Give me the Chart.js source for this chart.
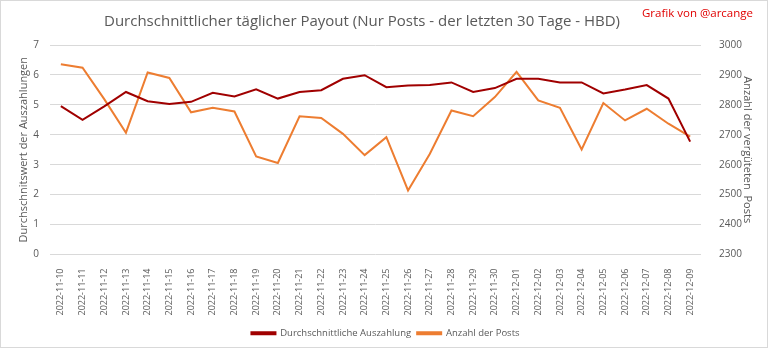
<!DOCTYPE html>
<html>
<head>
<meta charset="utf-8">
<script src="https://cdn.jsdelivr.net/npm/chart.js@4/dist/chart.umd.min.js"></script>
<style>
  body { margin: 0; background: #fff; }
  #wrap { position: relative; width: 768px; height: 349px; }
  #titel { position: absolute; left: 104px; top: 10px; font: 15px "Open Sans", sans-serif; color: #595959; white-space: nowrap; }
  #credit { position: absolute; right: 15px; top: 5px; font: 11.5px "Open Sans", sans-serif; color: #e00000; white-space: nowrap; }
</style>
</head>
<body>
<div id="wrap">
  <canvas id="chart-area" width="768" height="349"></canvas>
  <div id="titel">Durchschnittlicher täglicher Payout (Nur Posts - der letzten 30 Tage - HBD)</div>
  <div id="credit">Grafik von @arcange</div>
</div>
<script>
// Daten
var tage = ['2022-11-10','2022-11-11','2022-11-12','2022-11-13','2022-11-14','2022-11-15','2022-11-16','2022-11-17','2022-11-18','2022-11-19',
            '2022-11-20','2022-11-21','2022-11-22','2022-11-23','2022-11-24','2022-11-25','2022-11-26','2022-11-27','2022-11-28','2022-11-29',
            '2022-11-30','2022-12-01','2022-12-02','2022-12-03','2022-12-04','2022-12-05','2022-12-06','2022-12-07','2022-12-08','2022-12-09'];
var auszahlung = [4.96, 4.50, 4.95, 5.43, 5.12, 5.03, 5.10, 5.40, 5.28, 5.52,
                  5.21, 5.43, 5.49, 5.87, 5.99, 5.59, 5.65, 5.66, 5.75, 5.43,
                  5.56, 5.87, 5.87, 5.75, 5.75, 5.38, 5.51, 5.66, 5.21, 3.77];
var anzahlPosts = [2936, 2924, 2819, 2707, 2908, 2890, 2775, 2790, 2778, 2628,
                   2606, 2762, 2756, 2703, 2632, 2692, 2514, 2636, 2781, 2762,
                   2826, 2910, 2815, 2790, 2651, 2806, 2748, 2787, 2737, 2694];

var grau = '#595959';
var font = '"Open Sans", sans-serif';

// Rahmen um das ganze Diagramm
var rahmen = {
  id: 'rahmen',
  beforeDraw: function(chart) {
    var c = chart.ctx;
    c.save();
    c.fillStyle = '#fff';
    c.fillRect(0, 0, chart.width, chart.height);
    c.strokeStyle = '#d9d9d9';
    c.lineWidth = 1;
    c.strokeRect(0.5, 0.5, chart.width - 1, chart.height - 2);
    c.restore();
  }
};

var ctx = document.getElementById('chart-area');
var myChart = new Chart(ctx, {
  type: 'line',
  data: {
    labels: tage,
    datasets: [
      { label: 'Durchschnittliche Auszahlung', data: auszahlung, yAxisID: 'y',
        borderColor: '#a00000', backgroundColor: '#a00000', borderWidth: 2, pointRadius: 0, tension: 0 },
      { label: 'Anzahl der Posts', data: anzahlPosts, yAxisID: 'y1',
        borderColor: '#ed7d31', backgroundColor: '#ed7d31', borderWidth: 2, pointRadius: 0, tension: 0 }
    ]
  },
  plugins: [rahmen],
  options: {
    responsive: false,
    animation: false,
    layout: { padding: { left: 17, right: 14, bottom: 1, top: 45 } },
    plugins: {
      title: { display: false },
      legend: {
        position: 'bottom',
        labels: { color: grau, font: { family: font, size: 9.5 }, boxWidth: 24, boxHeight: 2, padding: 6 }
      },
      tooltip: { enabled: false }
    },
    scales: {
      x: {
        offset: true,
        grid: { display: false },
        border: { display: false },
        ticks: { color: grau, font: { family: font, size: 9 }, minRotation: 90, maxRotation: 90, autoSkip: false, padding: 6 },
        afterFit: function(s) { s.height = 68; }
      },
      y: {
        position: 'left',
        min: 0, max: 7,
        ticks: { stepSize: 1, color: grau, font: { family: font, size: 10 }, padding: 11 },
        grid: { color: '#d9d9d9', drawTicks: false },
        border: { display: false },
        title: { display: true, text: 'Durchschnitswert der Auszahlungen', color: grau, font: { family: font, size: 11 }, padding: 0 },
        afterFit: function(s) { s.width = 33; }
      },
      y1: {
        position: 'right',
        min: 2300, max: 3000,
        ticks: { stepSize: 100, color: grau, font: { family: font, size: 10 }, padding: 10,
                 callback: function(v) { return String(v); } },
        grid: { display: false },
        border: { display: false },
        title: { display: true, text: 'Anzahl der vergüteten  Posts', color: grau, font: { family: font, size: 11 }, padding: 0 },
        afterFit: function(s) { s.width = 53; }
      }
    }
  }
});
</script>
</body>
</html>
